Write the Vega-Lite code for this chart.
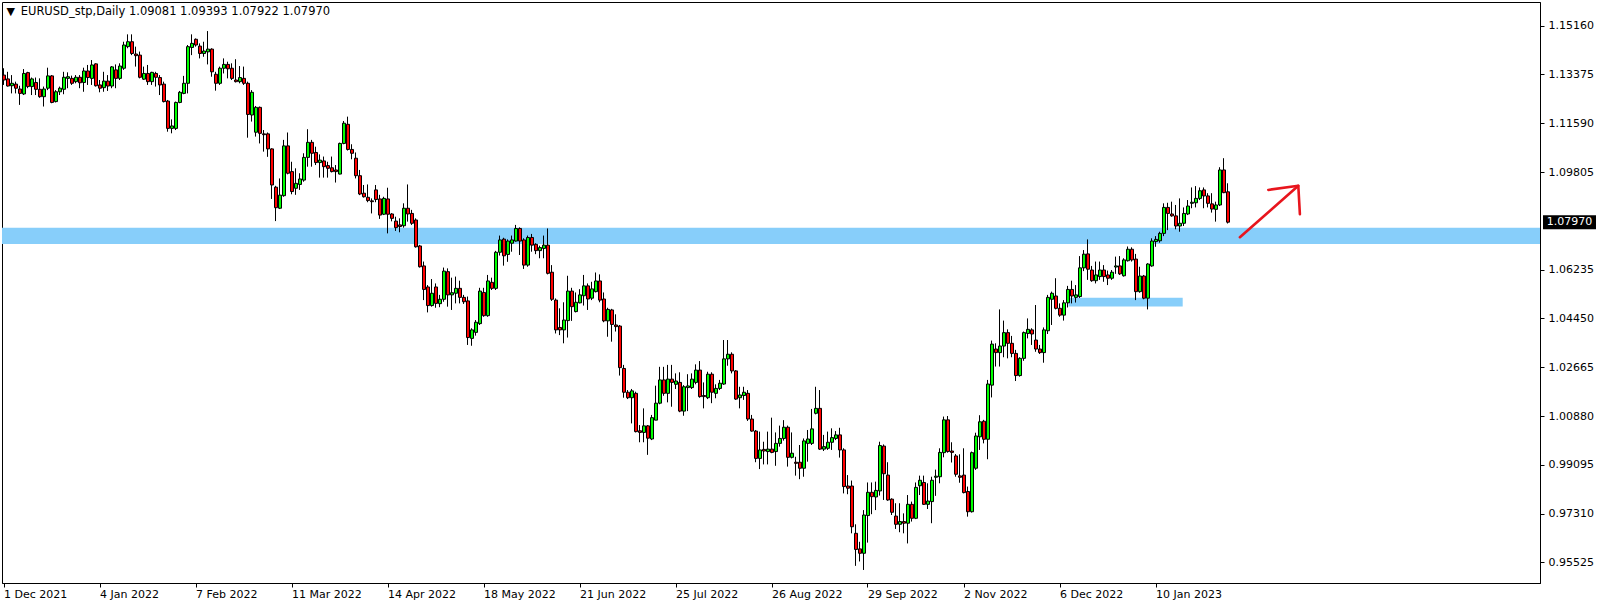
{
"$schema": "https://vega.github.io/schema/vega-lite/v6.json",
"width": 1538, "height": 581,
"autosize": {"type": "none"},
"padding": {"left": 2, "top": 2, "right": 64, "bottom": 24},
"background": "white",
"config": {"view": {"stroke": "black", "strokeWidth": 1}},
"datasets": {
"candles": [
{"i":0,"o":1.1335,"h":1.136,"l":1.1299,"c":1.1317},
{"i":1,"o":1.1321,"h":1.1347,"l":1.1293,"c":1.1295},
{"i":2,"o":1.1296,"h":1.1335,"l":1.1268,"c":1.1305},
{"i":3,"o":1.1302,"h":1.1311,"l":1.1268,"c":1.1287},
{"i":4,"o":1.1284,"h":1.1296,"l":1.1226,"c":1.1268},
{"i":5,"o":1.1266,"h":1.1357,"l":1.1262,"c":1.1341},
{"i":6,"o":1.1344,"h":1.1347,"l":1.1287,"c":1.1293},
{"i":7,"o":1.1293,"h":1.1326,"l":1.1262,"c":1.1321},
{"i":8,"o":1.1308,"h":1.1326,"l":1.1262,"c":1.1283},
{"i":9,"o":1.1283,"h":1.1323,"l":1.1252,"c":1.1256},
{"i":10,"o":1.1256,"h":1.1293,"l":1.122,"c":1.1284},
{"i":11,"o":1.1287,"h":1.1362,"l":1.128,"c":1.1332},
{"i":12,"o":1.1332,"h":1.1335,"l":1.1232,"c":1.1235},
{"i":13,"o":1.1238,"h":1.128,"l":1.1235,"c":1.1274},
{"i":14,"o":1.1274,"h":1.1293,"l":1.1262,"c":1.1287},
{"i":15,"o":1.1283,"h":1.1347,"l":1.1265,"c":1.1327},
{"i":16,"o":1.1323,"h":1.1345,"l":1.1287,"c":1.1329},
{"i":17,"o":1.1323,"h":1.1333,"l":1.1299,"c":1.1305},
{"i":18,"o":1.1311,"h":1.1335,"l":1.1305,"c":1.1327},
{"i":19,"o":1.1327,"h":1.1335,"l":1.1287,"c":1.1307},
{"i":20,"o":1.1308,"h":1.1362,"l":1.1274,"c":1.135},
{"i":21,"o":1.135,"h":1.1372,"l":1.1299,"c":1.1326},
{"i":22,"o":1.1323,"h":1.139,"l":1.1299,"c":1.1372},
{"i":23,"o":1.1376,"h":1.1378,"l":1.1293,"c":1.1296},
{"i":24,"o":1.1299,"h":1.1317,"l":1.1272,"c":1.1287},
{"i":25,"o":1.1289,"h":1.1347,"l":1.1274,"c":1.1313},
{"i":26,"o":1.1313,"h":1.1335,"l":1.1277,"c":1.1295},
{"i":27,"o":1.1295,"h":1.1368,"l":1.1287,"c":1.1365},
{"i":28,"o":1.1354,"h":1.1374,"l":1.1287,"c":1.1323},
{"i":29,"o":1.1323,"h":1.1378,"l":1.1317,"c":1.1368},
{"i":30,"o":1.136,"h":1.1457,"l":1.1354,"c":1.1445},
{"i":31,"o":1.1439,"h":1.1484,"l":1.1433,"c":1.1457},
{"i":32,"o":1.1457,"h":1.1484,"l":1.1408,"c":1.1414},
{"i":33,"o":1.1412,"h":1.1439,"l":1.1366,"c":1.1406},
{"i":34,"o":1.1408,"h":1.1421,"l":1.1323,"c":1.1327},
{"i":35,"o":1.132,"h":1.1366,"l":1.1317,"c":1.1341},
{"i":36,"o":1.1341,"h":1.1372,"l":1.1299,"c":1.1311},
{"i":37,"o":1.1311,"h":1.1347,"l":1.1299,"c":1.1345},
{"i":38,"o":1.1341,"h":1.1347,"l":1.1293,"c":1.1327},
{"i":39,"o":1.1326,"h":1.1335,"l":1.1262,"c":1.1299},
{"i":40,"o":1.1302,"h":1.1311,"l":1.1235,"c":1.1238},
{"i":41,"o":1.124,"h":1.1244,"l":1.1128,"c":1.114},
{"i":42,"o":1.114,"h":1.1173,"l":1.1122,"c":1.1149},
{"i":43,"o":1.114,"h":1.1238,"l":1.1134,"c":1.1235},
{"i":44,"o":1.1235,"h":1.1277,"l":1.1232,"c":1.1272},
{"i":45,"o":1.1268,"h":1.1332,"l":1.1265,"c":1.1305},
{"i":46,"o":1.1305,"h":1.1445,"l":1.1268,"c":1.1439},
{"i":47,"o":1.1436,"h":1.1484,"l":1.1408,"c":1.1451},
{"i":48,"o":1.1466,"h":1.1469,"l":1.1439,"c":1.1445},
{"i":49,"o":1.1441,"h":1.1451,"l":1.1396,"c":1.1414},
{"i":50,"o":1.1414,"h":1.1457,"l":1.1402,"c":1.1423},
{"i":51,"o":1.142,"h":1.1496,"l":1.1374,"c":1.143},
{"i":52,"o":1.143,"h":1.1433,"l":1.1329,"c":1.1347},
{"i":53,"o":1.1338,"h":1.1347,"l":1.1278,"c":1.1305},
{"i":54,"o":1.1305,"h":1.1366,"l":1.1299,"c":1.136},
{"i":55,"o":1.136,"h":1.1396,"l":1.1341,"c":1.1374},
{"i":56,"o":1.1374,"h":1.1384,"l":1.1323,"c":1.1358},
{"i":57,"o":1.136,"h":1.1378,"l":1.1317,"c":1.1323},
{"i":58,"o":1.1317,"h":1.1393,"l":1.1308,"c":1.1311},
{"i":59,"o":1.1311,"h":1.1368,"l":1.1305,"c":1.1326},
{"i":60,"o":1.1323,"h":1.1366,"l":1.1299,"c":1.1305},
{"i":61,"o":1.1305,"h":1.1311,"l":1.1106,"c":1.1191},
{"i":62,"o":1.1189,"h":1.128,"l":1.1165,"c":1.1272},
{"i":63,"o":1.1126,"h":1.1222,"l":1.111,"c":1.1217},
{"i":64,"o":1.1217,"h":1.122,"l":1.1085,"c":1.1122},
{"i":65,"o":1.112,"h":1.1134,"l":1.1055,"c":1.1117},
{"i":66,"o":1.112,"h":1.1125,"l":1.1036,"c":1.1065},
{"i":67,"o":1.1065,"h":1.1067,"l":1.0882,"c":1.0933},
{"i":68,"o":1.0925,"h":1.093,"l":1.0801,"c":1.085},
{"i":69,"o":1.0848,"h":1.0957,"l":1.0845,"c":1.0896},
{"i":70,"o":1.0894,"h":1.1098,"l":1.089,"c":1.1076},
{"i":71,"o":1.1076,"h":1.1125,"l":1.0972,"c":1.0976},
{"i":72,"o":1.0982,"h":1.1018,"l":1.0899,"c":1.0909},
{"i":73,"o":1.0921,"h":1.0994,"l":1.0897,"c":1.0939},
{"i":74,"o":1.0935,"h":1.0976,"l":1.0915,"c":1.0955},
{"i":75,"o":1.0951,"h":1.1049,"l":1.0945,"c":1.1034},
{"i":76,"o":1.1034,"h":1.1137,"l":1.1,"c":1.1089},
{"i":77,"o":1.1089,"h":1.1098,"l":1.1,"c":1.1049},
{"i":78,"o":1.1052,"h":1.1073,"l":1.1006,"c":1.1015},
{"i":79,"o":1.1015,"h":1.1045,"l":1.096,"c":1.1024},
{"i":80,"o":1.1021,"h":1.1037,"l":1.096,"c":1.1},
{"i":81,"o":1.1004,"h":1.1018,"l":1.096,"c":1.0994},
{"i":82,"o":1.0996,"h":1.1037,"l":1.0979,"c":1.0982},
{"i":83,"o":1.0988,"h":1.1006,"l":1.0942,"c":1.0982},
{"i":84,"o":1.0973,"h":1.1088,"l":1.0972,"c":1.1085},
{"i":85,"o":1.1085,"h":1.1167,"l":1.1082,"c":1.1159},
{"i":86,"o":1.1155,"h":1.1183,"l":1.1059,"c":1.1063},
{"i":87,"o":1.1063,"h":1.1082,"l":1.1027,"c":1.1049},
{"i":88,"o":1.1031,"h":1.1052,"l":1.0957,"c":1.0967},
{"i":89,"o":1.0967,"h":1.0988,"l":1.0896,"c":1.09},
{"i":90,"o":1.0903,"h":1.0933,"l":1.0887,"c":1.089},
{"i":91,"o":1.0888,"h":1.0935,"l":1.087,"c":1.0876},
{"i":92,"o":1.0875,"h":1.0884,"l":1.0829,"c":1.0872},
{"i":93,"o":1.0915,"h":1.0933,"l":1.087,"c":1.088},
{"i":94,"o":1.0882,"h":1.0897,"l":1.0809,"c":1.0823},
{"i":95,"o":1.0826,"h":1.089,"l":1.0823,"c":1.0884},
{"i":96,"o":1.0882,"h":1.0923,"l":1.0756,"c":1.0826},
{"i":97,"o":1.0827,"h":1.083,"l":1.08,"c":1.0811},
{"i":98,"o":1.0801,"h":1.0817,"l":1.0765,"c":1.0777},
{"i":99,"o":1.0787,"h":1.0811,"l":1.076,"c":1.0781},
{"i":100,"o":1.0784,"h":1.0866,"l":1.0777,"c":1.0848},
{"i":101,"o":1.0848,"h":1.0935,"l":1.0799,"c":1.0827},
{"i":102,"o":1.0829,"h":1.0842,"l":1.0787,"c":1.0793},
{"i":103,"o":1.0805,"h":1.0811,"l":1.0704,"c":1.0707},
{"i":104,"o":1.071,"h":1.0714,"l":1.0631,"c":1.0634},
{"i":105,"o":1.0637,"h":1.0653,"l":1.0512,"c":1.0551},
{"i":106,"o":1.056,"h":1.0567,"l":1.0467,"c":1.0492},
{"i":107,"o":1.0492,"h":1.0589,"l":1.0488,"c":1.0537},
{"i":108,"o":1.056,"h":1.0573,"l":1.0484,"c":1.05},
{"i":109,"o":1.0499,"h":1.0531,"l":1.0486,"c":1.0515},
{"i":110,"o":1.0515,"h":1.0631,"l":1.0506,"c":1.0618},
{"i":111,"o":1.0616,"h":1.0628,"l":1.0488,"c":1.0531},
{"i":112,"o":1.0531,"h":1.0594,"l":1.0476,"c":1.0539},
{"i":113,"o":1.0537,"h":1.0598,"l":1.05,"c":1.0555},
{"i":114,"o":1.0555,"h":1.0583,"l":1.05,"c":1.0522},
{"i":115,"o":1.0522,"h":1.0531,"l":1.0498,"c":1.0506},
{"i":116,"o":1.0509,"h":1.0525,"l":1.0348,"c":1.0375},
{"i":117,"o":1.0372,"h":1.0409,"l":1.0345,"c":1.0403},
{"i":118,"o":1.0394,"h":1.0439,"l":1.0382,"c":1.0431},
{"i":119,"o":1.0426,"h":1.0557,"l":1.0421,"c":1.0545},
{"i":120,"o":1.054,"h":1.0557,"l":1.0451,"c":1.0455},
{"i":121,"o":1.0455,"h":1.0604,"l":1.0451,"c":1.0582},
{"i":122,"o":1.0577,"h":1.0594,"l":1.0549,"c":1.0555},
{"i":123,"o":1.0555,"h":1.0692,"l":1.0549,"c":1.0687},
{"i":124,"o":1.0687,"h":1.0748,"l":1.0675,"c":1.0732},
{"i":125,"o":1.0735,"h":1.074,"l":1.0638,"c":1.0674},
{"i":126,"o":1.0679,"h":1.0734,"l":1.0652,"c":1.0728},
{"i":127,"o":1.072,"h":1.0748,"l":1.0689,"c":1.0732},
{"i":128,"o":1.0728,"h":1.0787,"l":1.0726,"c":1.0774},
{"i":129,"o":1.0774,"h":1.0778,"l":1.0677,"c":1.0728},
{"i":130,"o":1.0732,"h":1.0738,"l":1.0626,"c":1.064},
{"i":131,"o":1.064,"h":1.0748,"l":1.0634,"c":1.0741},
{"i":132,"o":1.0741,"h":1.0754,"l":1.0689,"c":1.0713},
{"i":133,"o":1.0716,"h":1.072,"l":1.068,"c":1.0693},
{"i":134,"o":1.0693,"h":1.0711,"l":1.0665,"c":1.0704},
{"i":135,"o":1.0701,"h":1.0748,"l":1.0665,"c":1.0713},
{"i":136,"o":1.0713,"h":1.0774,"l":1.0606,"c":1.061},
{"i":137,"o":1.0614,"h":1.064,"l":1.0509,"c":1.0515},
{"i":138,"o":1.0512,"h":1.0518,"l":1.039,"c":1.0403},
{"i":139,"o":1.0412,"h":1.0482,"l":1.0384,"c":1.0403},
{"i":140,"o":1.0403,"h":1.0504,"l":1.0354,"c":1.0439},
{"i":141,"o":1.0437,"h":1.0601,"l":1.0375,"c":1.0545},
{"i":142,"o":1.0545,"h":1.0557,"l":1.0436,"c":1.0488},
{"i":143,"o":1.047,"h":1.054,"l":1.0467,"c":1.0504},
{"i":144,"o":1.0502,"h":1.0552,"l":1.05,"c":1.0531},
{"i":145,"o":1.0528,"h":1.0604,"l":1.0492,"c":1.0564},
{"i":146,"o":1.0564,"h":1.0573,"l":1.0476,"c":1.0516},
{"i":147,"o":1.0519,"h":1.0579,"l":1.0512,"c":1.0553},
{"i":148,"o":1.0543,"h":1.0613,"l":1.054,"c":1.0582},
{"i":149,"o":1.0582,"h":1.0606,"l":1.0504,"c":1.0512},
{"i":150,"o":1.0516,"h":1.054,"l":1.0431,"c":1.0436},
{"i":151,"o":1.0436,"h":1.0484,"l":1.0378,"c":1.0478},
{"i":152,"o":1.0476,"h":1.048,"l":1.036,"c":1.0423},
{"i":153,"o":1.0421,"h":1.046,"l":1.0397,"c":1.0415},
{"i":154,"o":1.0417,"h":1.0421,"l":1.0236,"c":1.0265},
{"i":155,"o":1.0262,"h":1.0275,"l":1.0155,"c":1.0175},
{"i":156,"o":1.0175,"h":1.0183,"l":1.015,"c":1.0155},
{"i":157,"o":1.0155,"h":1.0187,"l":1.0061,"c":1.018},
{"i":158,"o":1.0171,"h":1.0177,"l":1.0028,"c":1.0031},
{"i":159,"o":1.0034,"h":1.0055,"l":0.9992,"c":1.0028},
{"i":160,"o":1.0028,"h":1.0116,"l":0.9992,"c":1.0052},
{"i":161,"o":1.0052,"h":1.0055,"l":0.9946,"c":1.0007},
{"i":162,"o":1.0004,"h":1.0092,"l":1.0,"c":1.0082},
{"i":163,"o":1.0073,"h":1.0199,"l":1.0073,"c":1.0135},
{"i":164,"o":1.0135,"h":1.0268,"l":1.0131,"c":1.022},
{"i":165,"o":1.022,"h":1.0268,"l":1.0162,"c":1.0171},
{"i":166,"o":1.0171,"h":1.0275,"l":1.0138,"c":1.0223},
{"i":167,"o":1.0223,"h":1.0275,"l":1.0122,"c":1.0211},
{"i":168,"o":1.0204,"h":1.0244,"l":1.0187,"c":1.0216},
{"i":169,"o":1.0211,"h":1.0248,"l":1.0102,"c":1.0106},
{"i":170,"o":1.0106,"h":1.0201,"l":1.0089,"c":1.0195},
{"i":171,"o":1.0192,"h":1.0241,"l":1.0106,"c":1.0198},
{"i":172,"o":1.0192,"h":1.0244,"l":1.0187,"c":1.0223},
{"i":173,"o":1.0211,"h":1.0277,"l":1.0204,"c":1.0256},
{"i":174,"o":1.0256,"h":1.0289,"l":1.0155,"c":1.0159},
{"i":175,"o":1.0163,"h":1.0211,"l":1.0116,"c":1.0159},
{"i":176,"o":1.0155,"h":1.025,"l":1.015,"c":1.0241},
{"i":177,"o":1.0241,"h":1.0248,"l":1.0135,"c":1.0175},
{"i":178,"o":1.0171,"h":1.0204,"l":1.0153,"c":1.0189},
{"i":179,"o":1.0189,"h":1.022,"l":1.0183,"c":1.0208},
{"i":180,"o":1.0205,"h":1.0366,"l":1.0202,"c":1.0297},
{"i":181,"o":1.0297,"h":1.0366,"l":1.0272,"c":1.0314},
{"i":182,"o":1.0314,"h":1.0321,"l":1.0244,"c":1.0253},
{"i":183,"o":1.0253,"h":1.0256,"l":1.0147,"c":1.015},
{"i":184,"o":1.0155,"h":1.0195,"l":1.0116,"c":1.0165},
{"i":185,"o":1.0163,"h":1.0195,"l":1.0147,"c":1.0175},
{"i":186,"o":1.0171,"h":1.0183,"l":1.007,"c":1.0077},
{"i":187,"o":1.0077,"h":1.0092,"l":1.0031,"c":1.0033},
{"i":188,"o":1.0033,"h":1.0037,"l":0.9919,"c":0.9933},
{"i":189,"o":0.9933,"h":1.0031,"l":0.9894,"c":0.9964},
{"i":190,"o":0.9966,"h":0.9994,"l":0.9911,"c":0.996},
{"i":191,"o":0.9958,"h":1.0031,"l":0.9911,"c":0.9967},
{"i":192,"o":0.9967,"h":1.0082,"l":0.9952,"c":0.9955},
{"i":193,"o":0.9958,"h":1.0028,"l":0.9906,"c":0.9988},
{"i":194,"o":0.9988,"h":1.0053,"l":0.9976,"c":1.0006},
{"i":195,"o":1.0006,"h":1.0073,"l":0.9998,"c":1.0047},
{"i":196,"o":1.0047,"h":1.0053,"l":0.9903,"c":0.9937},
{"i":197,"o":0.9937,"h":1.0028,"l":0.9933,"c":0.9952},
{"i":198,"o":0.9919,"h":0.9939,"l":0.987,"c":0.9915},
{"i":199,"o":0.9919,"h":0.9982,"l":0.9857,"c":0.9897},
{"i":200,"o":0.9897,"h":1.0006,"l":0.9866,"c":0.9997},
{"i":201,"o":0.9988,"h":1.0037,"l":0.9921,"c":1.0004},
{"i":202,"o":0.9988,"h":1.0114,"l":0.9982,"c":1.0041},
{"i":203,"o":1.0098,"h":1.0195,"l":1.0094,"c":1.0116},
{"i":204,"o":1.0116,"h":1.0183,"l":0.9964,"c":0.9967},
{"i":205,"o":0.9967,"h":1.0019,"l":0.996,"c":0.9976},
{"i":206,"o":0.997,"h":1.0031,"l":0.9964,"c":0.9992},
{"i":207,"o":0.9992,"h":1.0043,"l":0.9964,"c":1.0009},
{"i":208,"o":1.0006,"h":1.0033,"l":1.0,"c":1.0019},
{"i":209,"o":1.0019,"h":1.0045,"l":0.9936,"c":0.9964},
{"i":210,"o":0.9964,"h":0.997,"l":0.9805,"c":0.983},
{"i":211,"o":0.9832,"h":0.9872,"l":0.9802,"c":0.9824},
{"i":212,"o":0.9832,"h":0.9852,"l":0.9659,"c":0.9683},
{"i":213,"o":0.9659,"h":0.9692,"l":0.954,"c":0.96},
{"i":214,"o":0.9602,"h":0.9628,"l":0.9556,"c":0.9586},
{"i":215,"o":0.9586,"h":0.9744,"l":0.9525,"c":0.9726},
{"i":216,"o":0.9724,"h":0.9845,"l":0.9625,"c":0.9809},
{"i":217,"o":0.9809,"h":0.9845,"l":0.9729,"c":0.9793},
{"i":218,"o":0.9792,"h":0.9848,"l":0.9744,"c":0.9816},
{"i":219,"o":0.9814,"h":0.9994,"l":0.9797,"c":0.998},
{"i":220,"o":0.9978,"h":0.9984,"l":0.9781,"c":0.9877},
{"i":221,"o":0.9872,"h":0.9919,"l":0.9778,"c":0.9781},
{"i":222,"o":0.9784,"h":0.9787,"l":0.9726,"c":0.9736},
{"i":223,"o":0.9722,"h":0.9769,"l":0.9675,"c":0.9692},
{"i":224,"o":0.9692,"h":0.9769,"l":0.9663,"c":0.9702},
{"i":225,"o":0.9702,"h":0.9732,"l":0.9659,"c":0.9696},
{"i":226,"o":0.9696,"h":0.9799,"l":0.9622,"c":0.9765},
{"i":227,"o":0.9765,"h":0.9775,"l":0.9702,"c":0.9714},
{"i":228,"o":0.9714,"h":0.9845,"l":0.9711,"c":0.9827},
{"i":229,"o":0.9833,"h":0.987,"l":0.9799,"c":0.9853},
{"i":230,"o":0.9845,"h":0.987,"l":0.9763,"c":0.9765},
{"i":231,"o":0.9765,"h":0.9842,"l":0.9748,"c":0.9777},
{"i":232,"o":0.9775,"h":0.9866,"l":0.9696,"c":0.9853},
{"i":233,"o":0.9864,"h":0.9892,"l":0.9796,"c":0.9868},
{"i":234,"o":0.9866,"h":0.997,"l":0.9842,"c":0.9955},
{"i":235,"o":0.9954,"h":1.0086,"l":0.9937,"c":1.0074},
{"i":236,"o":1.0074,"h":1.0088,"l":0.9954,"c":0.9958},
{"i":237,"o":0.996,"h":0.9992,"l":0.9918,"c":0.9955},
{"i":238,"o":0.9942,"h":0.9949,"l":0.9866,"c":0.9875},
{"i":239,"o":0.9869,"h":0.9948,"l":0.9844,"c":0.9864},
{"i":240,"o":0.9872,"h":0.997,"l":0.9805,"c":0.9808},
{"i":241,"o":0.9812,"h":0.983,"l":0.972,"c":0.9738},
{"i":242,"o":0.9738,"h":0.9958,"l":0.9735,"c":0.9954},
{"i":243,"o":0.9897,"h":1.0027,"l":0.9891,"c":1.0015},
{"i":244,"o":1.0012,"h":1.0091,"l":0.9964,"c":1.0067},
{"i":245,"o":1.0069,"h":1.0074,"l":0.9988,"c":1.0003},
{"i":246,"o":1.0003,"h":1.022,"l":0.993,"c":1.0205},
{"i":247,"o":1.0201,"h":1.0364,"l":1.0156,"c":1.0351},
{"i":248,"o":1.0333,"h":1.0354,"l":1.0269,"c":1.032},
{"i":249,"o":1.032,"h":1.0478,"l":1.0269,"c":1.0344},
{"i":250,"o":1.0344,"h":1.0437,"l":1.0303,"c":1.0393},
{"i":251,"o":1.0393,"h":1.0405,"l":1.0299,"c":1.0354},
{"i":252,"o":1.0354,"h":1.0381,"l":1.0303,"c":1.0317},
{"i":253,"o":1.0317,"h":1.033,"l":1.0216,"c":1.0236},
{"i":254,"o":1.0236,"h":1.0303,"l":1.0232,"c":1.0299},
{"i":255,"o":1.0299,"h":1.0397,"l":1.029,"c":1.0393},
{"i":256,"o":1.039,"h":1.0445,"l":1.0372,"c":1.0405},
{"i":257,"o":1.0403,"h":1.0409,"l":1.0348,"c":1.0388},
{"i":258,"o":1.0366,"h":1.0494,"l":1.0323,"c":1.0333},
{"i":259,"o":1.0333,"h":1.0348,"l":1.0315,"c":1.032},
{"i":260,"o":1.032,"h":1.0412,"l":1.0283,"c":1.0403},
{"i":261,"o":1.04,"h":1.0531,"l":1.0388,"c":1.0522},
{"i":262,"o":1.0515,"h":1.0543,"l":1.0421,"c":1.0537},
{"i":263,"o":1.0527,"h":1.0592,"l":1.0478,"c":1.0482},
{"i":264,"o":1.0482,"h":1.05,"l":1.0451,"c":1.0457},
{"i":265,"o":1.0457,"h":1.0512,"l":1.0437,"c":1.0502},
{"i":266,"o":1.0502,"h":1.0564,"l":1.0485,"c":1.0551},
{"i":267,"o":1.0551,"h":1.0583,"l":1.05,"c":1.0527},
{"i":268,"o":1.0522,"h":1.0567,"l":1.0503,"c":1.0531},
{"i":269,"o":1.0525,"h":1.0673,"l":1.052,"c":1.063},
{"i":270,"o":1.063,"h":1.0695,"l":1.0618,"c":1.068},
{"i":271,"o":1.0681,"h":1.0734,"l":1.0586,"c":1.0625},
{"i":272,"o":1.0622,"h":1.0637,"l":1.0579,"c":1.0583},
{"i":273,"o":1.0583,"h":1.0653,"l":1.0573,"c":1.0604},
{"i":274,"o":1.0598,"h":1.0653,"l":1.0586,"c":1.0622},
{"i":275,"o":1.0622,"h":1.064,"l":1.0579,"c":1.0598},
{"i":276,"o":1.0604,"h":1.062,"l":1.0567,"c":1.0592},
{"i":277,"o":1.0592,"h":1.0622,"l":1.0586,"c":1.0614},
{"i":278,"o":1.0633,"h":1.0671,"l":1.0608,"c":1.0637},
{"i":279,"o":1.0637,"h":1.0673,"l":1.0604,"c":1.0608},
{"i":280,"o":1.0601,"h":1.0665,"l":1.0598,"c":1.0659},
{"i":281,"o":1.0656,"h":1.0708,"l":1.0653,"c":1.0698},
{"i":282,"o":1.0698,"h":1.0705,"l":1.0653,"c":1.0659},
{"i":283,"o":1.0662,"h":1.0681,"l":1.0512,"c":1.0543},
{"i":284,"o":1.0543,"h":1.0634,"l":1.0539,"c":1.06},
{"i":285,"o":1.06,"h":1.0604,"l":1.0515,"c":1.0519},
{"i":286,"o":1.0519,"h":1.0647,"l":1.0478,"c":1.0644},
{"i":287,"o":1.0637,"h":1.0738,"l":1.0634,"c":1.0728},
{"i":288,"o":1.0726,"h":1.0746,"l":1.0707,"c":1.0734},
{"i":289,"o":1.0729,"h":1.0762,"l":1.0722,"c":1.0756},
{"i":290,"o":1.0756,"h":1.0866,"l":1.0746,"c":1.0851},
{"i":291,"o":1.0851,"h":1.0868,"l":1.0768,"c":1.0829},
{"i":292,"o":1.0827,"h":1.0872,"l":1.0817,"c":1.082},
{"i":293,"o":1.082,"h":1.086,"l":1.0771,"c":1.0783},
{"i":294,"o":1.0783,"h":1.0884,"l":1.0762,"c":1.0793},
{"i":295,"o":1.0793,"h":1.0851,"l":1.0783,"c":1.0829},
{"i":296,"o":1.0827,"h":1.0878,"l":1.0823,"c":1.0856},
{"i":297,"o":1.0866,"h":1.0924,"l":1.0848,"c":1.087},
{"i":298,"o":1.0868,"h":1.0929,"l":1.0851,"c":1.0884},
{"i":299,"o":1.0884,"h":1.0924,"l":1.0878,"c":1.0912},
{"i":300,"o":1.0915,"h":1.0924,"l":1.0848,"c":1.0893},
{"i":301,"o":1.0893,"h":1.0903,"l":1.0851,"c":1.0866},
{"i":302,"o":1.0864,"h":1.0903,"l":1.0832,"c":1.0845},
{"i":303,"o":1.0844,"h":1.0872,"l":1.0799,"c":1.086},
{"i":304,"o":1.086,"h":1.0998,"l":1.0856,"c":1.0988},
{"i":305,"o":1.0988,"h":1.1031,"l":1.0903,"c":1.0905},
{"i":306,"o":1.09081,"h":1.09393,"l":1.07922,"c":1.0797}
],
"bands": [
{"x0":-0.375,"x1":384.125,"lo":1.0717,"hi":1.0777},
{"x0":266.25,"x1":294.8,"lo":1.0489,"hi":1.0521}
],
"arrow": [
{"seg":"shaft","k":0,"x":309.1,"y":1.0742},
{"seg":"shaft","k":1,"x":323.7,"y":1.093},
{"seg":"head","k":0,"x":316.2,"y":1.0915},
{"seg":"head","k":1,"x":323.7,"y":1.093},
{"seg":"head","k":2,"x":324.1,"y":1.0826}
]
},
"layer": [
{
"data": {"name": "bands"},
"mark": {"type": "rect", "color": "#87cefa"},
"encoding": {
"x": {"field": "x0", "type": "quantitative", "title": null, "scale": {"domain": [-0.375, 384.125], "nice": false, "zero": false, "padding": 0}},
"x2": {"field": "x1"},
"y": {"field": "lo", "type": "quantitative", "title": null, "scale": {"domain": [0.94773, 1.16023], "nice": false, "zero": false, "padding": 0}},
"y2": {"field": "hi"}
}
},
{
"data": {"name": "candles"},
"mark": {"type": "rule", "color": "black", "strokeWidth": 1},
"encoding": {
"x": {"field": "i", "type": "quantitative", "title": null},
"y": {"field": "l", "type": "quantitative", "title": null},
"y2": {"field": "h"}
}
},
{
"data": {"name": "candles"},
"mark": {"type": "bar", "orient": "vertical", "size": 3, "xOffset": 0.5, "stroke": "black", "strokeWidth": 1},
"encoding": {
"x": {"field": "i", "type": "quantitative", "title": null,
 "axis": {"orient": "bottom", "values": [0,24,48,72,96,120,144,168,192,216,240,264,288],
  "labelExpr": "['1 Dec 2021','4 Jan 2022','7 Feb 2022','11 Mar 2022','14 Apr 2022','18 May 2022','21 Jun 2022','25 Jul 2022','26 Aug 2022','29 Sep 2022','2 Nov 2022','6 Dec 2022','10 Jan 2023'][round(datum.value/24)]",
  "domainColor": "black", "domainWidth": 1, "tickColor": "black", "tickSize": 4, "tickWidth": 1,
  "labelAlign": "left", "labelBaseline": "top", "labelPadding": 1, "labelFont": "DejaVu Sans", "labelFontSize": 11, "labelColor": "black",
  "grid": false, "labelOverlap": false, "labelFlush": false, "labelBound": false, "title": null}},
"y": {"field": "o", "type": "quantitative", "title": null,
 "axis": {"orient": "right", "values": [1.1516,1.13375,1.1159,1.09805,1.06235,1.0445,1.02665,1.0088,0.99095,0.9731,0.95525],
  "format": ".5f", "domainColor": "black", "domainWidth": 1, "tickColor": "black", "tickSize": 4, "tickWidth": 1,
  "labelPadding": 4, "labelFont": "DejaVu Sans", "labelFontSize": 11, "labelColor": "black", "labelBaseline": "middle",
  "grid": false, "labelOverlap": false, "labelFlush": false, "labelBound": false, "title": null}},
"y2": {"field": "c"},
"fill": {"condition": {"test": "datum.c >= datum.o", "value": "#00ff00"}, "value": "#ff0000"}
}
},
{
"data": {"name": "arrow"},
"mark": {"type": "line", "color": "#e8151d", "strokeWidth": 2.6, "strokeCap": "round", "strokeJoin": "round"},
"encoding": {
"x": {"field": "x", "type": "quantitative", "title": null},
"y": {"field": "y", "type": "quantitative", "title": null},
"detail": {"field": "seg"},
"order": {"field": "k"}
}
},
{
"data": {"name": "candles"},
"transform": [{"filter": "datum.i == 306"}],
"mark": {"type": "tick", "orient": "horizontal", "size": 53, "thickness": 14, "color": "black", "opacity": 1, "clip": false},
"encoding": {
"x": {"datum": 391.5, "type": "quantitative"},
"y": {"field": "c", "type": "quantitative", "title": null}
}
},
{
"data": {"name": "candles"},
"transform": [{"filter": "datum.i == 306"}],
"mark": {"type": "text", "color": "white", "font": "DejaVu Sans", "fontSize": 11, "align": "center", "baseline": "middle", "clip": false},
"encoding": {
"x": {"datum": 391.5, "type": "quantitative"},
"y": {"field": "c", "type": "quantitative", "title": null},
"text": {"field": "c", "format": ".5f"}
}
},
{
"data": {"values": [{"t": "▼"}]},
"mark": {"type": "text", "color": "black", "font": "DejaVu Sans", "fontSize": 11, "align": "left", "baseline": "middle"},
"encoding": {
"x": {"datum": 0.75, "type": "quantitative"},
"y": {"datum": 1.15646, "type": "quantitative"},
"text": {"field": "t"}
}
},
{
"data": {"values": [{"t": "EURUSD_stp,Daily  1.09081 1.09393 1.07922 1.07970"}]},
"mark": {"type": "text", "color": "black", "font": "DejaVu Sans", "fontSize": 11.5, "align": "left", "baseline": "middle"},
"encoding": {
"x": {"datum": 4.3, "type": "quantitative"},
"y": {"datum": 1.15646, "type": "quantitative"},
"text": {"field": "t"}
}
}
]
}
